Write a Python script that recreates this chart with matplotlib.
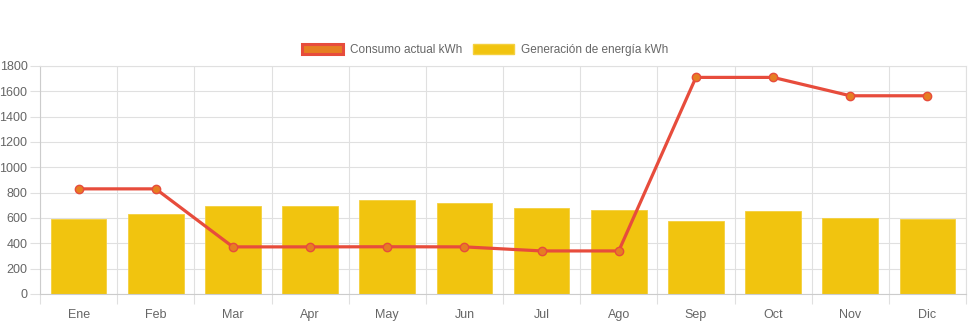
import matplotlib.pyplot as plt
import matplotlib.patches as patches
import numpy as np

meses = ['Ene', 'Feb', 'Mar', 'Apr', 'May', 'Jun', 'Jul', 'Ago', 'Sep', 'Oct', 'Nov', 'Dic']
consumo = [830, 830, 372, 372, 373, 372, 340, 340, 1710, 1710, 1565, 1565]
generacion = [592, 629, 697, 697, 742, 716, 679, 663, 574, 655, 600, 592]
y_ticks = list(range(0, 1801, 200))

plt.rcParams['font.family'] = ['Liberation Sans', 'DejaVu Sans']

fig = plt.figure(figsize=(9.71, 3.23), dpi=100)
ax = fig.add_axes([40 / 971, 29 / 323, 926 / 971, 228 / 323])

x = np.arange(len(meses))
grid_kleur = '#e0e0e0'
tekst_kleur = '#666666'

ax.bar(x, generacion, width=0.72, color='#F1C40F', edgecolor='#F4D03F', linewidth=0.6, zorder=2)
ax.plot(x, consumo, color='#E74C3C', linewidth=2.3, zorder=3,
        marker='o', markersize=6, markerfacecolor='#E67E22',
        markeredgecolor='#E74C3C', markeredgewidth=1.0)

ax.set_xlim(-0.5, len(meses) - 0.5)
ax.set_ylim(0, 1800)
ax.set_yticks(y_ticks)
ax.set_xticks(x)
ax.set_xticklabels(meses)
ax.set_xticks(np.arange(-0.5, len(meses), 1), minor=True)

ax.grid(axis='y', color=grid_kleur, linewidth=0.8, zorder=0)
ax.grid(axis='x', which='minor', color=grid_kleur, linewidth=0.8, zorder=0)
ax.set_axisbelow(True)

ax.tick_params(axis='x', which='major', length=0, pad=11, labelsize=9, labelcolor=tekst_kleur)
ax.tick_params(axis='x', which='minor', length=7, color=grid_kleur, width=0.8)
ax.tick_params(axis='y', length=7, color=grid_kleur, width=0.8, pad=2, labelsize=9, labelcolor=tekst_kleur)

for kant in ['top', 'right']:
    ax.spines[kant].set_color(grid_kleur)
    ax.spines[kant].set_linewidth(0.8)
for kant in ['left', 'bottom']:
    ax.spines[kant].set_color('#cccccc')
    ax.spines[kant].set_linewidth(0.8)

# legenda zoals in chart.js
h1 = patches.Patch(facecolor='#E67E22', edgecolor='#E74C3C', linewidth=2.2, label='Consumo actual kWh')
h2 = patches.Patch(facecolor='#F1C40F', edgecolor='#F4D03F', linewidth=1, label='Generación de energía kWh')
fig.legend(handles=[h1, h2], loc='center', bbox_to_anchor=(485 / 971, 1 - 50 / 323), ncol=2,
           frameon=False, fontsize=8.5, labelcolor=tekst_kleur, handlelength=3.5, handleheight=1.0,
           handletextpad=0.6, columnspacing=0.9)

fig.savefig('out.png', dpi=100, facecolor='white')
